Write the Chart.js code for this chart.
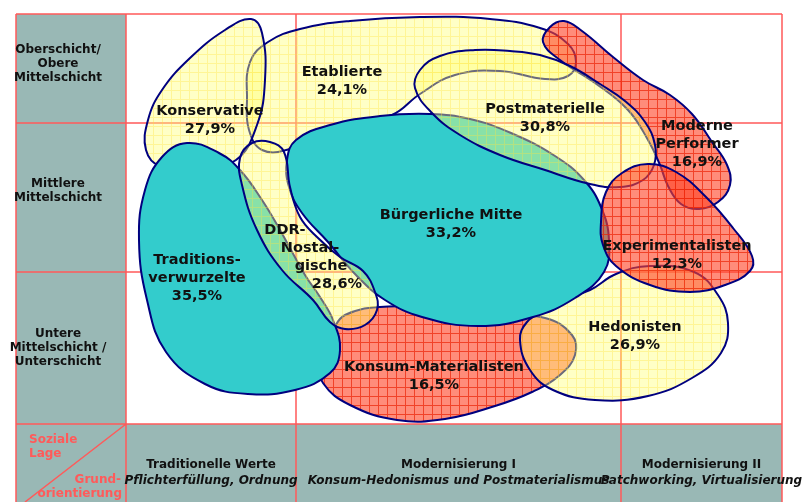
<!DOCTYPE html>
<html><head><meta charset="utf-8">
<script src="https://cdn.jsdelivr.net/npm/chart.js@4.4.1/dist/chart.umd.min.js"></script>
<style>html,body{margin:0;padding:0;background:#fff;}canvas{display:block}</style>
</head><body>
<canvas id="c" width="806" height="502"></canvas>
<script>
// ---- data (drawn bottom layer first) ----
const milieus = ['Etablierte','Konservative','Moderne Performer','Konsum-Materialisten','Hedonisten',
  'Traditionsverwurzelte','Bürgerliche Mitte','DDR-Nostalgische','Postmaterielle','Experimentalisten'];
const shares = [24.1, 27.9, 16.9, 16.5, 26.9, 35.5, 33.2, 28.6, 30.8, 12.3];
const labelLines = [['Etablierte'],['Konservative'],['Moderne','Performer'],['Konsum-Materialisten'],['Hedonisten'],
  ['Traditions-','verwurzelte'],['Bürgerliche Mitte'],['DDR-','Nostal-','gische'],['Postmaterielle'],['Experimentalisten']];
const socialLayers = [['Oberschicht/','Obere','Mittelschicht'],['Mittlere','Mittelschicht'],['Untere','Mittelschicht /','Unterschicht']];
const valueOrientations = ['Traditionelle Werte','Modernisierung I','Modernisierung II'];
const orientationSubtitles = ['Pflichterfüllung, Ordnung','Konsum-Hedonismus und Postmaterialismus','Patchworking, Virtualisierung'];
const columnBounds = [126, 296, 621, 782];
const rowBounds = [14, 123, 272, 424];

// milieu outlines in chart units
const etablierteOutline = [[247,100],[250,62],[268,42],[300,29],[350,21],[420,17],[490,19],[540,28],[568,44],[576,62],[568,76],[545,79],[500,71],[455,75],[420,94],[392,115],[352,123],[318,134],[290,149],[262,150],[249,130]];
const konservativeOutline = [[251,19],[262,33],[265,80],[257,125],[236,160],[200,168],[160,166],[146,150],[148,120],[162,90],[190,58],[225,30]];
const modernePerformerOutline = [[543,42],[550,27],[564,21],[582,31],[613,57],[643,80],[670,95],[692,114],[712,142],[727,165],[730,185],[718,202],[699,209],[681,204],[668,186],[660,165],[648,140],[628,110],[595,83],[560,60]];
const konsumMaterialistenOutline = [[333,330],[345,315],[380,307],[430,308],[500,316],[545,318],[572,335],[575,355],[560,375],[532,392],[495,406],[445,419],[397,420],[350,405],[323,383],[318,358]];
const hedonistenOutline = [[560,300],[590,290],[616,274],[650,266],[694,272],[718,295],[728,323],[721,353],[692,378],[648,396],[595,400],[553,390],[530,370],[520,340],[527,322],[545,310]];
const traditionsOutline = [[187,143],[219,153],[240,170],[262,200],[280,230],[305,275],[320,297],[333,320],[340,350],[330,373],[295,390],[248,394],[205,384],[166,352],[147,300],[139,240],[145,190],[162,157]];
const buergerlicheOutline = [[287,160],[296,140],[330,125],[380,116],[430,114],[470,119],[511,133],[555,156],[584,180],[601,207],[609,240],[604,272],[575,298],[533,317],[478,326],[422,317],[385,300],[356,275],[328,242],[302,213],[289,187]];
const ddrOutline = [[240,158],[252,143],[270,142],[284,152],[290,187],[300,217],[317,237],[340,257],[363,271],[375,292],[377,310],[365,325],[345,329],[330,322],[313,300],[282,270],[257,230],[242,185]];
const postmaterielleOutline = [[415,88],[420,70],[440,56],[475,50],[510,51],[540,55],[570,66],[600,84],[625,101],[645,122],[655,145],[654,165],[643,180],[620,187],[590,184],[545,170],[500,155],[460,135],[432,113]];
const experimentalistenOutline = [[601,222],[606,192],[622,173],[648,164],[676,172],[706,197],[733,228],[752,256],[750,271],[725,285],[690,292],[650,285],[616,266],[603,245]];
const outlines = [etablierteOutline, konservativeOutline, modernePerformerOutline, konsumMaterialistenOutline, hedonistenOutline,
  traditionsOutline, buergerlicheOutline, ddrOutline, postmaterielleOutline, experimentalistenOutline];

// ---- layout / style (not data) ----
const labelPos = [[342,72],[210,111],[697,126],[434,367],[635,327],[197,260],[451,215],[285,230],[545,109],[677,246]];
const labelShift = {7:[0,25,36,52]};
const fillKind = ['y','y','r','r','y','t','t','y','y','r'];

function makePattern(base, line, size){
  const c=document.createElement('canvas'); c.width=c.height=size;
  const g=c.getContext('2d');
  g.fillStyle=base; g.fillRect(0,0,size,size);
  g.fillStyle=line; g.fillRect(0,0,size,1); g.fillRect(0,1,1,size-1);
  return g.createPattern(c,'repeat');
}
const fills = {
  y: makePattern('rgba(255,255,120,0.42)','rgba(255,225,60,0.35)',9),
  r: makePattern('rgba(255,70,40,0.62)','rgba(235,35,5,0.7)',9),
  t: '#33cccc'
};

class BlobController extends Chart.LineController {
  update(mode){
    const line=this._cachedMeta.dataset;
    if(line){ line._loop=true; line._fullLoop=true; }
    super.update(mode);
  }
}
BlobController.id='blob';
BlobController.defaults=Chart.LineController.defaults;
Chart.register(BlobController);

const blobFill = {
  id:'blobFill',
  beforeDatasetDraw(chart,args){
    const meta=args.meta, line=meta.dataset, ds=chart.data.datasets[args.index];
    if(!line||!ds.blobFill) return;
    line._loop=true; line._fullLoop=true;
    line.updateControlPoints(chart.chartArea,'x');
    const ctx=chart.ctx; ctx.save(); ctx.beginPath();
    if(line.path(ctx)) ctx.closePath();
    ctx.fillStyle=ds.blobFill; ctx.fill(); ctx.restore();
  }
};

const FONT='"DejaVu Sans", Verdana, sans-serif';
const frame = {
  id:'frame',
  beforeDraw(chart){
    const ctx=chart.ctx, xs=chart.scales.x, ys=chart.scales.y;
    const X=v=>xs.getPixelForValue(v), Y=v=>ys.getPixelForValue(v);
    const left=16, W=chart.width, H=chart.height;
    ctx.save();
    ctx.fillStyle='#fff'; ctx.fillRect(0,0,W,H);
    ctx.fillStyle='#99b8b5';
    ctx.fillRect(left,Y(rowBounds[0]),X(columnBounds[0])-left,H-Y(rowBounds[0]));
    ctx.fillRect(X(columnBounds[0]),Y(rowBounds[3]),X(columnBounds[3])-X(columnBounds[0]),H-Y(rowBounds[3]));
    ctx.strokeStyle='#ff5a5a'; ctx.lineWidth=1.5;
    ctx.beginPath();
    rowBounds.forEach(r=>{ctx.moveTo(left,Y(r)); ctx.lineTo(X(columnBounds[3]),Y(r));});
    ctx.moveTo(left,Y(rowBounds[0])); ctx.lineTo(left,H);
    columnBounds.forEach(c=>{ctx.moveTo(X(c),Y(rowBounds[0])); ctx.lineTo(X(c),H);});
    ctx.moveTo(X(columnBounds[0]),Y(rowBounds[3])); ctx.lineTo(25,H);
    ctx.stroke();
    ctx.restore();
  },
  afterDraw(chart){
    const ctx=chart.ctx, xs=chart.scales.x;
    const X=v=>xs.getPixelForValue(v);
    ctx.save();
    ctx.textBaseline='middle'; ctx.textAlign='center'; ctx.fillStyle='#111';
    ctx.font='bold 12px '+FONT;
    const rowY=[64,191,348];
    socialLayers.forEach((lines,i)=>{
      const n=lines.length;
      lines.forEach((t,j)=>ctx.fillText(t,58,rowY[i]+(j-(n-1)/2)*14.3));
    });
    valueOrientations.forEach((t,i)=>{
      const cx=(X(columnBounds[i])+X(columnBounds[i+1]))/2;
      ctx.font='bold 12px '+FONT; ctx.fillText(t,cx,465);
      ctx.font='italic bold 12px '+FONT; ctx.fillText(orientationSubtitles[i],cx,481);
    });
    ctx.fillStyle='#ff5a5a'; ctx.font='bold 12px '+FONT;
    ctx.textAlign='left'; ctx.fillText('Soziale',29,440); ctx.fillText('Lage',29,454);
    ctx.textAlign='right'; ctx.fillText('Grund-',121,480); ctx.fillText('orientierung',122,494);
    ctx.restore();
  }
};

const labels = {
  id:'milieuLabels',
  afterDatasetsDraw(chart){
    const ctx=chart.ctx, xs=chart.scales.x, ys=chart.scales.y;
    ctx.save(); ctx.textAlign='center'; ctx.textBaseline='middle'; ctx.fillStyle='#111';
    ctx.font='bold 14.5px '+FONT;
    milieus.forEach((m,i)=>{
      const lines=labelLines[i].concat([shares[i].toFixed(1).replace('.',',')+'%']);
      const x0=xs.getPixelForValue(labelPos[i][0]), y0=ys.getPixelForValue(labelPos[i][1]);
      const sh=labelShift[i]||[];
      lines.forEach((t,j)=>ctx.fillText(t,x0+(sh[j]||0),y0+j*18));
    });
    ctx.restore();
  }
};

const datasets = milieus.map((m,i)=>({
  type:'blob',
  label:m,
  data: outlines[i].map(p=>({x:p[0],y:p[1]})),
  borderColor:'#00007f', borderWidth:2, tension:0.42,
  pointRadius:0, pointHoverRadius:0, pointHitRadius:0,
  fill:false, clip:false, capBezierPoints:false,
  blobFill: fills[fillKind[i]],
  order: milieus.length - i
}));

new Chart(document.getElementById('c'), {
  type:'blob',
  data:{datasets},
  options:{
    responsive:false, animation:false, devicePixelRatio:1, events:[],
    layout:{padding:{left:126,top:14,right:24,bottom:78}},
    scales:{
      x:{type:'linear',min:126,max:782,display:false},
      y:{type:'linear',min:14,max:424,reverse:true,display:false}
    },
    plugins:{legend:{display:false},tooltip:{enabled:false}}
  },
  plugins:[frame,blobFill,labels]
});
</script>
</body></html>
